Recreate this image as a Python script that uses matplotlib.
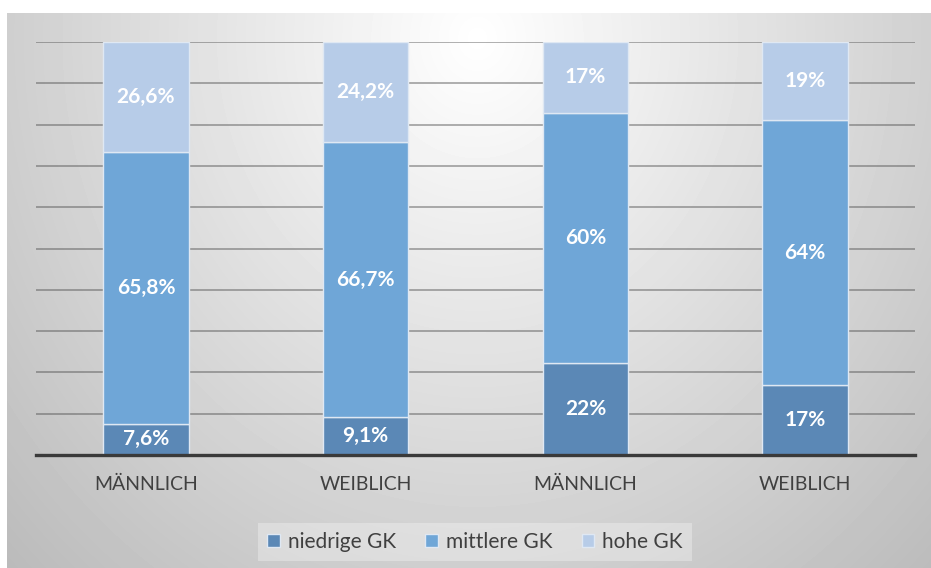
import numpy as np
import matplotlib
matplotlib.use("Agg")
import matplotlib.pyplot as plt

# Data (100% stacked, values as printed on the chart)
categories = ["MÄNNLICH", "WEIBLICH", "MÄNNLICH", "WEIBLICH"]
series_names = ["niedrige GK", "mittlere GK", "hohe GK"]
niedrige = [7.6, 9.1, 22, 17]
mittlere = [65.8, 66.7, 60, 64]
hohe = [26.6, 24.2, 17, 19]
labels_niedrige = ["7,6%", "9,1%", "22%", "17%"]
labels_mittlere = ["65,8%", "66,7%", "60%", "64%"]
labels_hohe = ["26,6%", "24,2%", "17%", "19%"]

COLORS = ["#5b88b6", "#6fa6d7", "#b7cce8"]
TEXT_COLOR = "#404040"

plt.rcParams['font.family'] = ['Lato', 'DejaVu Sans']

W, H = 931, 568
fig = plt.figure(figsize=(W / 100, H / 100), dpi=100)
fig.patch.set_facecolor("white")

# radial grey background of the chart area
bg = fig.add_axes([7 / W, 0, (W - 7) / W, (H - 13) / H], zorder=0)
yy, xx = np.mgrid[0:H - 13, 0:W - 7]
d = np.sqrt(((xx - 470) / 620.0) ** 2 + ((yy - 25) / 700.0) ** 2)
shade = np.clip(255 - 64 * d, 0, 255) / 255.0
bg.imshow(shade, cmap="gray", vmin=0, vmax=1, aspect="auto", interpolation="bilinear")
bg.axis("off")

ax = fig.add_axes([36 / W, (H - 455) / H, (915 - 36) / W, (455 - 42) / H], zorder=1)
ax.patch.set_alpha(0)

x = np.arange(len(categories))
data = np.array([niedrige, mittlere, hohe], dtype=float)
totals = data.sum(axis=0)
shares = data / totals * 100
texts = [labels_niedrige, labels_mittlere, labels_hohe]

bottom = np.zeros(len(categories))
for i in range(3):
    bars = ax.bar(x, shares[i], 0.39, bottom=bottom, color=COLORS[i],
                  edgecolor="#dfe8f3", linewidth=1.0, label=series_names[i], zorder=3)
    for b, t in zip(bars, texts[i]):
        ax.text(b.get_x() + b.get_width() / 2, b.get_y() + b.get_height() / 2, t,
                ha="center", va="center", color="white", fontsize=15,
                fontweight="bold", zorder=4)
    bottom += shares[i]

ax.set_xlim(-0.5, len(categories) - 0.5)
ax.set_ylim(0, 100)
ax.set_yticks(np.arange(0, 101, 10))
ax.yaxis.grid(True, color="#505050", alpha=0.45, linewidth=1.4, zorder=1)
ax.set_yticklabels([])
ax.tick_params(axis="y", length=0)
ax.set_xticks(x)
ax.set_xticklabels(categories, fontsize=14, color=TEXT_COLOR)
ax.tick_params(axis="x", length=0, pad=15)
for s in ["top", "right", "left"]:
    ax.spines[s].set_visible(False)
ax.spines["bottom"].set_color("#3a3a3a")
ax.spines["bottom"].set_linewidth(2.4)
ax.spines["bottom"].set_zorder(5)

leg = fig.legend(loc="center", bbox_to_anchor=(475 / W, 1 - 542 / H), ncol=3,
                 fontsize=15, frameon=True, fancybox=False, handlelength=0.6,
                 handleheight=0.6, handletextpad=0.4, columnspacing=1.4,
                 borderpad=0.45)
leg.get_frame().set_facecolor("white")
leg.get_frame().set_alpha(0.3)
leg.get_frame().set_linewidth(0)
for t in leg.get_texts():
    t.set_color(TEXT_COLOR)

fig.savefig("out.png", dpi=100)
